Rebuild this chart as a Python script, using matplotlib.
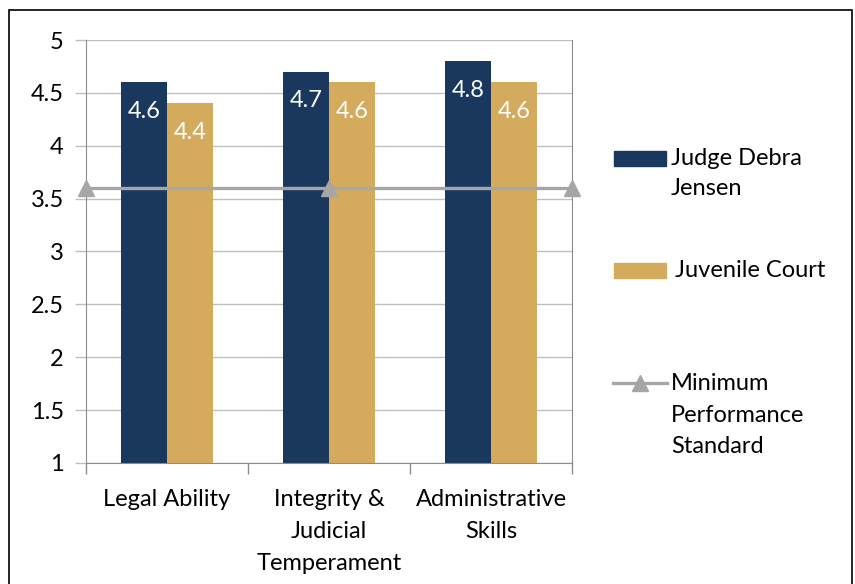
import matplotlib.pyplot as plt
from matplotlib.patches import Rectangle
from matplotlib.lines import Line2D
import numpy as np

# data
categories = ['Legal Ability', 'Integrity &\nJudicial\nTemperament', 'Administrative\nSkills']
judge = [4.6, 4.7, 4.8]
court = [4.4, 4.6, 4.6]
standard = [3.6, 3.6, 3.6]
series_names = ['Judge Debra\nJensen', 'Juvenile Court', 'Minimum\nPerformance\nStandard']

navy = '#1a375e'
gold = '#d4ab5c'
grey = '#a6a6a6'
fs = 17

plt.rcParams['font.family'] = ['Lato', 'DejaVu Sans']

fig = plt.figure(figsize=(8.55, 5.84), dpi=100)
ax = fig.add_axes([0.1006, 0.2072, 0.5684, 0.7243])

x = np.arange(len(categories))
w = 0.283
b1 = ax.bar(x - w/2, np.array(judge) - 1, w, bottom=1, color=navy, zorder=2)
b2 = ax.bar(x + w/2, np.array(court) - 1, w, bottom=1, color=gold, zorder=2)

for bars, vals in ((b1, judge), (b2, court)):
    for r, v in zip(bars, vals):
        ax.annotate(f'{v:g}', (r.get_x() + r.get_width()/2, v), xytext=(0, -13.5),
                    textcoords='offset points', ha='center', va='top',
                    color='white', fontsize=fs, zorder=3)

ax.set_xlim(-0.5, len(categories) - 0.5)
ax.set_ylim(1, 5)

# standard line spans whole plot area
lx = np.linspace(ax.get_xlim()[0], ax.get_xlim()[1], len(standard))
ax.plot(lx, standard, color=grey, lw=2.4, marker='^', markersize=11,
        clip_on=False, zorder=4)

ax.set_yticks(np.arange(1, 5.01, 0.5))
ax.set_yticklabels([f'{t:g}' for t in np.arange(1, 5.01, 0.5)])
ax.set_xticks(x)
ax.set_xticklabels(categories, linespacing=1.63)
ax.set_xticks(np.arange(-0.5, len(categories), 1), minor=True)
ax.tick_params(axis='x', which='major', length=0, pad=19, labelsize=fs)
ax.tick_params(axis='x', which='minor', length=8, color='#8c8c8c', width=1)
ax.tick_params(axis='y', length=8, color='#bfbfbf', width=1, pad=8, labelsize=fs)
ax.yaxis.grid(True, color='#bfbfbf', lw=1, zorder=0)
ax.set_axisbelow(True)
for s in ['left', 'right', 'bottom']:
    ax.spines[s].set_color('#8c8c8c')
ax.spines['top'].set_visible(False)

# legend drawn by hand
fig.add_artist(Rectangle((614/855, 1 - 166/584), 52/855, 15/584, transform=fig.transFigure, color=navy))
fig.add_artist(Rectangle((614/855, 1 - 278/584), 52/855, 15/584, transform=fig.transFigure, color=gold))
fig.add_artist(Line2D([613/855, 667/855], [1 - 383/584] * 2, transform=fig.transFigure,
                      color=grey, lw=2.4))
fig.add_artist(Line2D([640/855], [1 - 383/584], transform=fig.transFigure,
                      color=grey, marker='^', markersize=11))
fig.text(671/855, 1 - 148/584, series_names[0], fontsize=fs, va='top', linespacing=1.55)
fig.text(675/855, 1 - 260/584, series_names[1], fontsize=fs, va='top')
fig.text(671/855, 1 - 373/584, series_names[2], fontsize=fs, va='top', linespacing=1.63)

# outer border
fig.add_artist(Rectangle((9/855, -0.05), 843/855, 1.05 - 10/584, transform=fig.transFigure,
                         fill=False, edgecolor='black', lw=1.2))

fig.savefig('out.png', dpi=100)
